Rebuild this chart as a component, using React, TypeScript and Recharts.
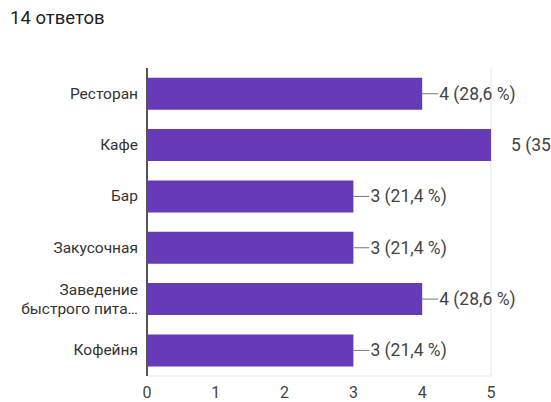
import { BarChart, Bar, XAxis, YAxis, CartesianGrid, LabelList } from "recharts";

const categories = ["Ресторан", "Кафе", "Бар", "Закусочная", "Заведение быстрого пита…", "Кофейня"];
const counts = [4, 5, 3, 3, 4, 3];
const percents = ["28,6", "35,7", "21,4", "21,4", "28,6", "21,4"];
const xTicks = [0, 1, 2, 3, 4, 5];
const gridTicks = [0, 0.5, 1, 1.5, 2, 2.5, 3, 3.5, 4, 4.5, 5];
const totalAnswers = 14;

const data = categories.map((name, i) => ({ name, count: counts[i], pct: percents[i] }));

const FONT = "Roboto, 'Noto Sans', Arial, sans-serif";

// two-line label for the long category, like the original
function CategoryTick(props: any) {
  const { x, y, payload } = props;
  const text: string = payload.value;
  const lines = text === "Заведение быстрого пита…" ? ["Заведение", "быстрого пита…"] : [text];
  const start = y - ((lines.length - 1) * 19) / 2;
  return (
    <text x={x - 1} y={start} textAnchor="end" fill="#333" fontSize={15.5} fontFamily={FONT} dominantBaseline="central">
      {lines.map((l, i) => (
        <tspan key={i} x={x - 1} y={start + i * 19} dominantBaseline="central">
          {l}
        </tspan>
      ))}
    </text>
  );
}

function ValueLabel(props: any) {
  const { x, y, width, height, index } = props;
  const end = x + width;
  const cy = y + height / 2;
  const d = data[index];
  // the longest bar has its label pushed right with no leader line
  const isMax = d.count === Math.max(...counts);
  return (
    <g>
      {!isMax && <line x1={end} y1={cy} x2={end + 16} y2={cy} stroke="#777" strokeWidth={1} />}
      <text x={isMax ? end + 20 : end + 17} y={cy} fill="#444" fontSize={17.5} fontFamily={FONT} dominantBaseline="central">
        {`${d.count} (${d.pct} %)`}
      </text>
    </g>
  );
}

export default function App() {
  return (
    <div style={{ position: "absolute", left: 0, top: 0, width: 551, height: 402, background: "#fff", overflow: "hidden" }}>
      <div style={{ position: "absolute", left: 10, top: 7, fontFamily: FONT, fontSize: 18.5, color: "#202124" }}>
        {totalAnswers} ответов
      </div>
      <BarChart
        width={551}
        height={402}
        data={data}
        layout="vertical"
        margin={{ top: 68, right: 60, left: 0, bottom: 0 }}
        barCategoryGap="19%"
      >
        <CartesianGrid xAxisId="grid" horizontal={false} stroke="#e6e6e6" />
        <XAxis
          xAxisId="grid"
          orientation="top"
          type="number"
          domain={[0, 5]}
          ticks={gridTicks}
          tick={false}
          tickLine={false}
          height={0}
          axisLine={{ stroke: "#e6e6e6" }}
        />
        <XAxis
          type="number"
          domain={[0, 5]}
          ticks={xTicks}
          tickLine={false}
          axisLine={{ stroke: "#e6e6e6" }}
          height={26}
          tickMargin={5}
          tick={{ fill: "#444", fontSize: 16, fontFamily: FONT }}
        />
        <YAxis
          type="category"
          dataKey="name"
          width={147}
          tickLine={false}
          axisLine={{ stroke: "#555", strokeWidth: 2 }}
          tick={<CategoryTick />}
          interval={0}
        />
        <Bar dataKey="count" fill="#673ab7" isAnimationActive={false}>
          <LabelList dataKey="count" content={<ValueLabel />} />
        </Bar>
      </BarChart>
    </div>
  );
}
